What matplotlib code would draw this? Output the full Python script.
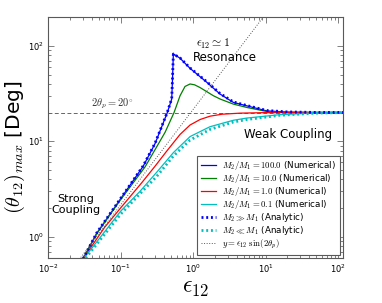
import math
import matplotlib
matplotlib.use('Agg')
import matplotlib.pyplot as plt
from matplotlib.ticker import FuncFormatter, LogLocator, NullFormatter

# Datos (epsilon_12 vs angulo maximo en grados)
eps_m100 = [0.0305, 0.047, 0.0984, 0.206, 0.30, 0.442, 0.508, 0.521, 0.535,
            0.662, 0.909, 1.545, 2.36, 3.6, 5.5, 10.4, 20, 50, 120]
th_m100 = [0.59, 1.09, 2.45, 5.5, 9.5, 20.0, 27.7, 45.0, 82.4,
           74.0, 58.0, 41.5, 31.2, 25.5, 23.5, 20.8, 20.2, 20.0, 20.0]

eps_m10 = [0.0305, 0.047, 0.0984, 0.218, 0.411, 0.547, 0.662, 0.775, 0.909,
           1.05, 1.25, 1.905, 2.36, 3.6, 5.5, 10.4, 20, 120]
th_m10 = [0.59, 1.08, 2.4, 5.4, 12.4, 20.0, 30.0, 37.5, 39.8,
          39.0, 36.5, 30.0, 27.7, 24.5, 22.6, 20.5, 20.1, 20.0]

eps_m1 = [0.031, 0.06, 0.10, 0.20, 0.30, 0.434, 0.662, 0.909, 1.25, 1.71,
          2.5, 4.45, 10, 120]
th_m1 = [0.6, 1.25, 2.0, 3.75, 5.5, 7.9, 11.8, 14.8, 16.9, 18.3,
         19.2, 19.7, 19.95, 20.0]

eps_m01 = [0.0315, 0.10, 0.186, 0.316, 0.535, 0.909, 1.71, 3.6, 5.5,
           15.8, 50, 120]
th_m01 = [0.6, 1.85, 3.0, 4.75, 7.6, 11.2, 14.2, 16.6, 17.5,
          19.0, 19.8, 20.0]

eps_big = [0.0305, 0.047, 0.0984, 0.206, 0.30, 0.442, 0.508, 0.521, 0.535,
           0.662, 0.909, 1.545, 2.36, 3.6, 5.5, 10.4, 20, 50, 120]
th_big = [0.59, 1.1, 2.47, 5.55, 9.6, 20.2, 28.0, 46.0, 82.0,
          74.5, 58.5, 42.0, 31.6, 25.8, 23.7, 21.0, 20.3, 20.05, 20.05]

eps_small = [0.033, 0.10, 0.20, 0.316, 0.535, 0.909, 1.71, 3.6, 5.5,
             15.8, 50, 120]
th_small = [0.6, 1.72, 3.0, 4.3, 7.0, 10.3, 13.3, 15.9, 16.9,
            18.7, 19.7, 20.0]

eps_lin = [0.01, 10.0]
th_lin = [0.215, 215.0]

theta_ref = 20.0

fig = plt.figure(figsize=(3.82, 3.03), dpi=100)
ax = fig.add_axes([0.1257, 0.1485, 0.7723, 0.7954])

ax.axhline(theta_ref, color='0.4', ls='--', lw=0.7, dashes=(4, 2.5))

ax.plot(eps_m100, th_m100, color='b', lw=0.9,
        label=r'$M_2/M_1=100.0$ (Numerical)')
ax.plot(eps_m10, th_m10, color='g', lw=0.9,
        label=r'$M_2/M_1=10.0$ (Numerical)')
ax.plot(eps_m1, th_m1, color='r', lw=0.9,
        label=r'$M_2/M_1=1.0$ (Numerical)')
ax.plot(eps_m01, th_m01, color='c', lw=0.9,
        label=r'$M_2/M_1=0.1$ (Numerical)')
ax.plot(eps_big, th_big, color='b', ls=(0, (0.7, 1.0)), lw=2.0,
        label=r'$M_2\gg M_1$ (Analytic)')
ax.plot(eps_small, th_small, color='c', ls=(0, (0.7, 1.0)), lw=2.0,
        label=r'$M_2\ll M_1$ (Analytic)')
ax.plot(eps_lin, th_lin, color='0.35', ls=':', lw=0.7,
        label=r'$y=\epsilon_{12}\ \sin(2\theta_p)$')

ax.set_xscale('log')
ax.set_yscale('log')
ax.set_xlim(0.01, 117)
ax.set_ylim(0.6, 200)

fmt = FuncFormatter(lambda v, p: r'$\mathregular{10^{%d}}$' % round(math.log10(v)))
ax.xaxis.set_major_locator(LogLocator(base=10))
ax.yaxis.set_major_locator(LogLocator(base=10))
ax.xaxis.set_major_formatter(fmt)
ax.yaxis.set_major_formatter(fmt)
ax.xaxis.set_minor_formatter(NullFormatter())
ax.yaxis.set_minor_formatter(NullFormatter())
ax.tick_params(which='both', direction='in', top=True, right=True,
               labelsize=6, width=0.5, color='0.3')
ax.tick_params(which='major', length=4, pad=3)
ax.tick_params(which='minor', length=2)
for s in ax.spines.values():
    s.set_linewidth(0.8)
    s.set_color('0.35')

# Textos
t1 = ax.text(0.076, 20.8, r'$2\theta_p=20^{\circ}$', ha='center', va='bottom',
             fontsize=7.5, color='0.2')
t2 = ax.text(1.89, 105, r'$\epsilon_{12}\simeq 1$', ha='center', va='center',
             fontsize=8.5)
ax.text(2.76, 76, 'Resonance', ha='center', va='center', fontsize=8.5)
ax.text(20.4, 11.9, 'Weak Coupling', ha='center', va='center', fontsize=8.5)
ax.text(0.0243, 2.17, 'Strong\nCoupling', ha='center', va='center',
        fontsize=8, multialignment='center')

xl = ax.set_xlabel(r'$\epsilon_{12}$', fontsize=17, labelpad=0)
yl = ax.set_ylabel(r'$(\theta_{12})_{max}$ [Deg]', fontsize=14.5)
ax.yaxis.set_label_coords(-0.07, 0.46)

leg = ax.legend(loc='lower right', fontsize=6.3, handlelength=1.7,
                handletextpad=0.7, borderaxespad=0.4, borderpad=0.45,
                fancybox=False, framealpha=1, edgecolor='0.35',
                labelspacing=0.0)
leg.get_frame().set_linewidth(0.8)

for t in [t1, t2, xl, yl] + leg.get_texts():
    t.set_math_fontfamily('cm')

fig.savefig('out.png', dpi=100)
